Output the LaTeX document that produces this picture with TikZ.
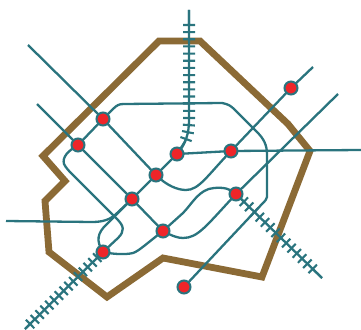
\documentclass[tikz,border=0pt]{standalone}
\usetikzlibrary{decorations.pathreplacing}
\definecolor{wall}{HTML}{8B6A35}
\definecolor{teal}{HTML}{2A747E}
\definecolor{stop}{HTML}{EE2529}
\tikzset{
  wallline/.style={draw=wall,line width=6.8pt,line join=miter},
  route/.style={draw=teal,line width=2.3pt},
  railticks/.style={draw=teal,line width=2.1pt,decorate,decoration={ticks,segment length=#1,amplitude=6pt}},
  station/.style={circle,draw=teal,line width=2pt,fill=stop,minimum size=13pt,inner sep=0pt}
}
\begin{document}
\begin{tikzpicture}[x=1pt,y=-1pt]
\useasboundingbox (0,0) rectangle (361,329);
\draw[wallline] (159,41) -- (200,41) -- (288,124) -- (310,151) -- (262,277) -- (163,258) -- (107,297) -- (49,252) -- (45,201) -- (65,181) -- (43,156) -- cycle;
\coordinate (a) at (103,119);
\coordinate (b) at (78,145);
\coordinate (c) at (177,154);
\coordinate (d) at (231,151);
\coordinate (e) at (156,175);
\coordinate (f) at (132,199);
\coordinate (g) at (236,194);
\coordinate (h) at (163,231);
\coordinate (i) at (103,252);
\coordinate (j) at (184,287);
\coordinate (k) at (291,88);
\coordinate (endA) at (28,45);
\coordinate (endB) at (37,104);
\coordinate (endK) at (313,67);
\coordinate (endG) at (338,94);
\coordinate (endW) at (6,221);
\coordinate (endE) at (361,150);
\coordinate (endN) at (189,10);
\coordinate (endSW) at (25,329);
\coordinate (endSE) at (322,278);
% straight routes
\draw[route] (endA) -- (a) -- (e) .. controls (167,186) and (178,190) .. (186,190) .. controls (199,190) and (207,176) .. (d) -- (k) -- (endK);
\draw[route] (endB) -- (b) -- (f) -- (h) .. controls (172,236) and (178,238) .. (183,238) .. controls (198,238) and (206,226) .. (g);
\draw[route] (h) -- (183,213) .. controls (192,204) and (199,189) .. (214,188) .. controls (224,187) and (231,189) .. (g) -- (endG);
\draw[route] (f) -- (e) -- (c) -- (d) -- (endE);
\draw[route] (endW) -- (92,222) .. controls (104,222) and (110,219) .. (115,215) -- (f);
% ring route
\draw[route] (b) -- (a) -- (113,109) .. controls (117,105) and (119,104) .. (124,104) -- (222,103) .. controls (228,104) and (231,106) .. (234,109) -- (257,132) .. controls (264,139) and (267,145) .. (267,155) -- (267,197) .. controls (267,199) and (265,201) .. (262,204) -- (j);
\draw[route] (b) .. controls (68,151) and (62,157) .. (64,164) .. controls (66,168) and (69,171) .. (72,174) -- (117,219) .. controls (124,226) and (125,231) .. (118,238) -- (i);
\draw[route] (f) -- (107,224) .. controls (97,233) and (96,241) .. (i);
\draw[route] (i) .. controls (112,254) and (125,255) .. (133,253) .. controls (139,251) and (146,244) .. (h);
% railways
\draw[route] (endN) -- (189,120) .. controls (189,133) and (186,144) .. (c);
\path[railticks=7.15,decoration={pre length=15pt,post length=16pt}] (endN) -- (189,120) .. controls (189,133) and (186,144) .. (c);
\draw[route] (i) -- (endSW);
\path[railticks=6.75,decoration={pre length=8pt,post length=1pt}] (i) -- (endSW);
\draw[route] (g) -- (endSE);
\path[railticks=7.4,decoration={pre length=11pt,post length=8pt}] (g) -- (endSE);
% stations
\foreach \n in {a,b,c,d,e,f,g,h,i,j,k}
  \node[station] (s\n) at (\n) {};
\end{tikzpicture}
\end{document}
